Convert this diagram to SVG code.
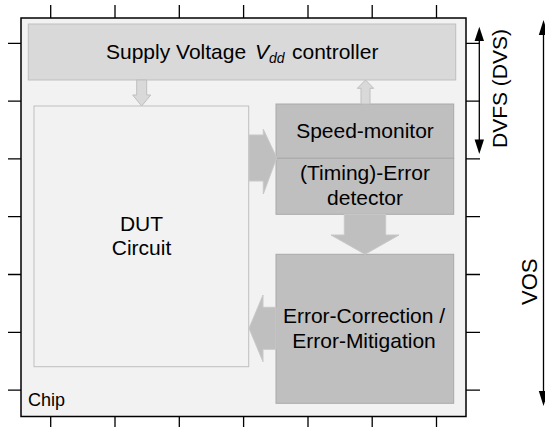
<svg xmlns="http://www.w3.org/2000/svg" width="545" height="427" viewBox="0 0 545 427">
<style>
text{font-family:"Liberation Sans",Arial,sans-serif;fill:#000}
.t{font-size:21px;text-anchor:middle}
.tick{stroke:#000;stroke-width:1.3}
.light{fill:#d9d9d9;stroke:#bfbfbf;stroke-width:1}
.dark{fill:#bfbfbf;stroke:#a9a9a9;stroke-width:1}
.ar{fill:#bfbfbf;stroke:#c8c8c8;stroke-width:1}
.arl{fill:#d9d9d9;stroke:#bfbfbf;stroke-width:1}
</style>
<rect width="545" height="427" fill="#fff"/>
<g id="ticks" class="tick">
<path d="M50.7 5V18M115 5V18M179.3 5V18M243.6 5V18M308 5V18M372.2 5V18M436.5 5V18"/>
<path d="M50.7 417V427M115 417V427M179.3 417V427M243.6 417V427M308 417V427M372.2 417V427M436.5 417V427"/>
<path d="M8 43.3H21M8 101.1H21M8 158.9H21M8 216.7H21M8 274.5H21M8 332.3H21M8 390.1H21"/>
<path d="M466 43.3H480M466 101.1H480M466 158.9H480M466 216.7H480M466 274.5H480M466 332.3H480M466 390.1H480"/>
</g>
<g id="chip">
<rect x="21" y="18" width="445" height="398.5" fill="#f2f2f2" stroke="#000" stroke-width="1.5"/>
<text x="28" y="406" font-size="18">Chip</text>
</g>
<g id="supply">
<rect x="28.3" y="24" width="427.4" height="56" class="light"/>
<text y="59.3" font-size="21"><tspan x="106">Supply Voltage</tspan><tspan x="255" font-style="italic">V</tspan><tspan x="269" dy="4" font-size="14" font-style="italic">dd</tspan><tspan x="292" dy="-4">controller</tspan></text>
</g>
<g id="dut">
<rect x="34" y="106" width="214.7" height="260.7" fill="#f2f2f2" stroke="#bfbfbf" stroke-width="1"/>
<text class="t" x="141.5" y="231">DUT</text>
<text class="t" x="141.5" y="255">Circuit</text>
</g>
<g id="speed">
<rect x="276" y="104" width="177.7" height="54.3" class="dark"/>
<text class="t" x="365" y="138.3">Speed-monitor</text>
</g>
<g id="detector">
<rect x="276" y="158.3" width="177.7" height="56" class="dark"/>
<text class="t" x="365" y="180">(Timing)-Error</text>
<text class="t" x="365" y="205">detector</text>
</g>
<g id="correction">
<rect x="276" y="254.3" width="177.7" height="149" class="dark"/>
<text class="t" x="364" y="322.7">Error-Correction /</text>
<text class="t" x="364" y="348.3">Error-Mitigation</text>
</g>
<g id="connectors">
<polygon class="arl" points="136.7,80 146.7,80 146.7,95 150.7,95 141.7,106 132.7,95 136.7,95"/>
<polygon class="arl" points="361,104 370,104 370,88.3 373.7,88.3 365.5,80 357.3,88.3 361,88.3"/>
<polygon class="ar" points="249,135 263.3,135 263.3,129.3 276.7,157.7 263.3,194 263.3,181 249,181"/>
<polygon class="ar" points="344.3,214.3 385.7,214.3 385.7,235 399,235 365,254.3 331,235 344.3,235"/>
<polygon class="ar" points="276,307.3 263,307.3 263,295 249,328.3 263,361.7 263,349.3 276,349.3"/>
<g id="dvfs">
<line x1="479.3" y1="38" x2="479.3" y2="143" stroke="#000" stroke-width="1.3"/>
<polygon points="479.3,26.7 484,41 474.6,41"/>
<polygon points="479.3,154 484,139.5 474.6,139.5"/>
<text transform="translate(507,88.5) rotate(-90)" font-size="21" text-anchor="middle">DVFS (DVS)</text>
</g>
<g id="vos">
<line x1="543.5" y1="32" x2="543.5" y2="394" stroke="#000" stroke-width="1.3"/>
<polygon points="543.5,20 548.2,35 538.8,35"/>
<polygon points="543.5,406 548.2,391 538.8,391"/>
<text transform="translate(536.7,281.7) rotate(-90)" font-size="22" text-anchor="middle">VOS</text>
</g>
</g>
</svg>
